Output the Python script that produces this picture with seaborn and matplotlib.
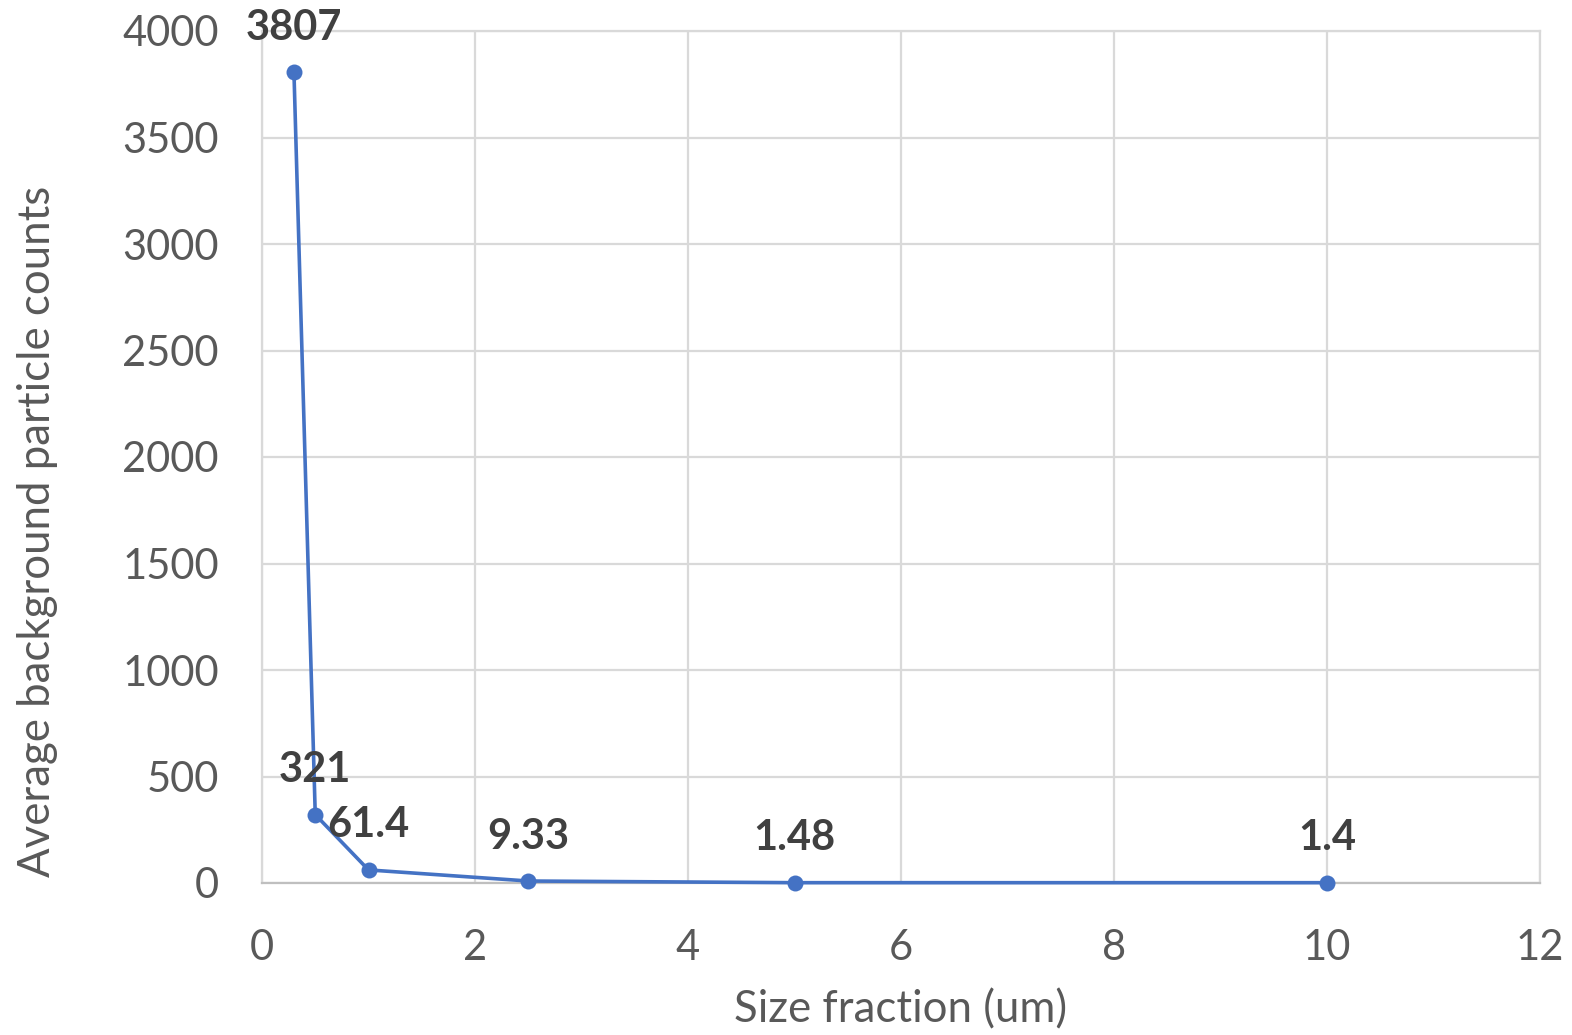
import matplotlib
matplotlib.use("Agg")
import matplotlib.pyplot as plt
import seaborn as sns
import pandas as pd

size_fraction = [0.3, 0.5, 1.0, 2.5, 5.0, 10.0]
counts = [3807, 321, 61.4, 9.33, 1.48, 1.4]
labels = ["3807", "321", "61.4", "9.33", "1.48", "1.4"]
x_ticks = [0, 2, 4, 6, 8, 10, 12]
y_ticks = [0, 500, 1000, 1500, 2000, 2500, 3000, 3500, 4000]

sns.set_theme(style="white")
plt.rcParams['font.family'] = ['Lato', 'DejaVu Sans']

df = pd.DataFrame({"x": size_fraction, "y": counts})

fig = plt.figure(figsize=(15.72, 10.35), dpi=100)
ax = fig.add_axes([262/1572, 1 - 883/1035, (1540-262)/1572, (883-31)/1035])

sns.lineplot(data=df, x="x", y="y", ax=ax, color="#4472C4", linewidth=2.6,
             marker="o", markersize=11.5, markeredgewidth=0, markerfacecolor="#4472C4",
             zorder=3, clip_on=False)

for xv, yv, lab in zip(size_fraction, counts, labels):
    ax.annotate(lab, (xv, yv), xytext=(0, 32), textcoords="offset points",
                ha="center", va="center", fontsize=30, fontweight="bold",
                color="#404040", zorder=4, annotation_clip=False)

ax.set_xlim(0, 12)
ax.set_ylim(0, 4000)
ax.set_xticks(x_ticks)
ax.set_yticks(y_ticks)
ax.grid(True, color="#D9D9D9", linewidth=1.6)
ax.set_axisbelow(True)
for s in ax.spines.values():
    s.set_color("#D9D9D9")
    s.set_linewidth(1.6)
ax.spines["bottom"].set_color("#BFBFBF")
ax.tick_params(axis="both", length=0, labelsize=30, labelcolor="#595959")
ax.tick_params(axis="x", pad=33)
ax.tick_params(axis="y", pad=31)

ax.set_xlabel("Size fraction (um)", fontsize=31.5, color="#595959")
ax.set_ylabel("Average background particle counts", fontsize=31.5, color="#595959")
ax.xaxis.set_label_coords(0.5, (883 - 1010) / 852, transform=ax.transAxes)
ax.xaxis.label.set_va("center")
ax.yaxis.set_label_coords((37 - 262) / 1278, (883 - 531) / 852, transform=ax.transAxes)
ax.yaxis.label.set_va("center")

fig.savefig("out.png", dpi=100)
